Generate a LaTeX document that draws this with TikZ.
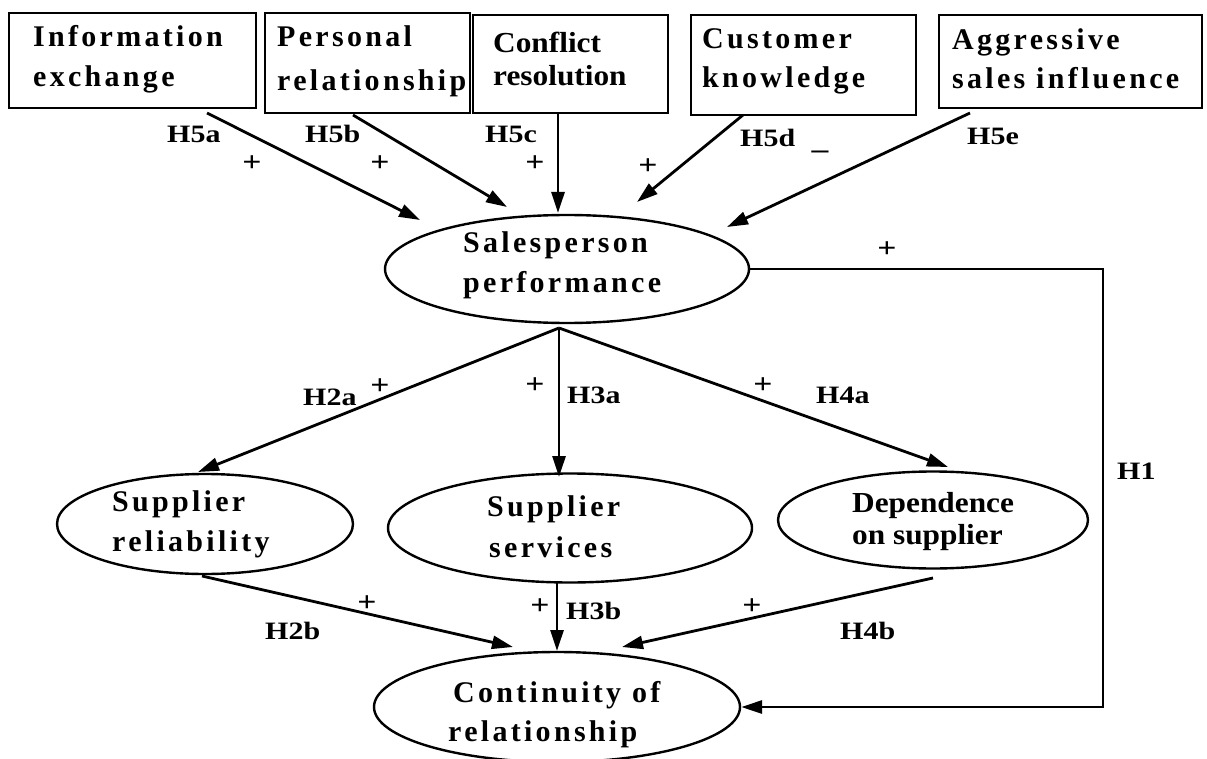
\documentclass[tikz,border=0pt]{standalone}
\usepackage{fontspec}
\setmainfont{Liberation Serif}
\newfontfamily\spfont{Liberation Serif}[UprightFont={* Bold}, LetterSpace=11]
\newfontfamily\plfont{Liberation Serif}[UprightFont={* Bold}, FakeStretch=1.08]
\newfontfamily\lbfont{Liberation Serif}[UprightFont={* Bold}, FakeStretch=1.2]
\usetikzlibrary{arrows.meta,shapes.geometric}
\tikzset{
  boxnode/.style={draw, line width=2.6pt, inner sep=0pt},
  ellnode/.style={ellipse, draw, line width=2.4pt, inner sep=0pt},
  sptext/.style={anchor=base west, inner sep=0pt, font=\spfont\fontsize{30}{32}\selectfont},
  pltext/.style={anchor=base west, inner sep=0pt, font=\plfont\fontsize{29}{31}\selectfont},
  lbtext/.style={anchor=base west, inner sep=0pt, font=\lbfont\fontsize{25}{27}\selectfont},
  sgtext/.style={inner sep=0pt, font=\lbfont\fontsize{28}{30}\selectfont},
  arr/.style={line width=2.8pt, -{Triangle[length=21pt,width=13pt]}}
}
\begin{document}
\begin{tikzpicture}[x=1pt,y=-1pt]
\useasboundingbox (0,0) rectangle (1207,759);
% boxes
\node[boxnode, minimum width=247pt, minimum height=95pt] (b1) at (132.5,60.5) {};
\node[boxnode, minimum width=205pt, minimum height=100pt] (b2) at (367.5,63) {};
\node[boxnode, minimum width=195pt, minimum height=98pt] (b3) at (570.5,64) {};
\node[boxnode, minimum width=225pt, minimum height=100pt] (b4) at (803.5,65) {};
\node[boxnode, minimum width=263pt, minimum height=93pt] (b5) at (1070.5,61.5) {};
\node[sptext] (t1a) at (33,47) {Information};
\node[sptext] (t1b) at (33,87) {exchange};
\node[sptext] (t2a) at (277,47) {Personal};
\node[sptext] (t2b) at (277,91) {relationship};
\node[pltext] (t3a) at (493,53) {Conflict};
\node[pltext] (t3b) at (493,86) {resolution};
\node[sptext] (t4a) at (702,49) {Customer};
\node[sptext] (t4b) at (702,88) {knowledge};
\node[sptext] (t5a) at (952,50) {Aggressive};
\node[sptext] (t5b) at (952,89) {sales influence};
% ellipses
\node[ellnode, minimum width=364pt, minimum height=108pt] (sp) at (567,269) {};
\node[ellnode, minimum width=296pt, minimum height=100pt] (rel) at (205,524) {};
\node[ellnode, minimum width=364pt, minimum height=109pt] (sv) at (570,528) {};
\node[ellnode, minimum width=310pt, minimum height=97pt] (dep) at (933,520) {};
\node[ellnode, minimum width=366pt, minimum height=110pt] (cr) at (557,707) {};
\node[sptext] (spa) at (463,253) {Salesperson};
\node[sptext] (spb) at (463,293) {performance};
\node[sptext] (rla) at (112,511) {Supplier};
\node[sptext] (rlb) at (112,551) {reliability};
\node[sptext] (sva) at (487,516) {Supplier};
\node[sptext] (svb) at (489,557) {services};
\node[pltext] (dpa) at (852,512) {Dependence};
\node[pltext] (dpb) at (852,544) {on supplier};
\node[sptext] (cra) at (453,702) {Continuity of};
\node[sptext] (crb) at (448,741) {relationship};
% arrow end points
\coordinate (s5a) at (207,113); \coordinate (e5a) at (420,220);
\coordinate (s5b) at (353,115); \coordinate (e5b) at (507,207);
\coordinate (s5c) at (558,113); \coordinate (e5c) at (558,213);
\coordinate (s5d) at (743,115); \coordinate (e5d) at (637,202);
\coordinate (s5e) at (970,113); \coordinate (e5e) at (727,227);
\coordinate (apex) at (559,328);
\coordinate (e2a) at (198,472);
\coordinate (e3a) at (559,477);
\coordinate (e4a) at (948,467);
\coordinate (s2b) at (202,576); \coordinate (e2b) at (513,647);
\coordinate (s3b) at (557,582); \coordinate (e3b) at (557,651);
\coordinate (s4b) at (933,578); \coordinate (e4b) at (622,647);
\coordinate (h1x) at (1103,0);
% connectors
\draw[arr] (s5a) -- (e5a);
\draw[arr] (s5b) -- (e5b);
\draw[arr] (s5c) -- (e5c);
\draw[arr] (s5d) -- (e5d);
\draw[arr] (s5e) -- (e5e);
\draw[arr] (apex) -- (e2a);
\draw[arr] (apex) -- (e3a);
\draw[arr] (apex) -- (e4a);
\draw[arr] (s2b) -- (e2b);
\draw[arr] (s3b) -- (e3b);
\draw[arr] (s4b) -- (e4b);
\draw[arr] (sp.east) -- (sp.east -| h1x) -- (cr.east -| h1x) -- (cr.east);
% labels
\node[lbtext] (l5a) at (167,143) {H5a};
\node[lbtext] (l5b) at (305,143) {H5b};
\node[lbtext] (l5c) at (485,143) {H5c};
\node[lbtext] (l5d) at (740,147) {H5d};
\node[lbtext] (l5e) at (967,145) {H5e};
\node[lbtext] (l2a) at (303,405) {H2a};
\node[lbtext] (l3a) at (567,403) {H3a};
\node[lbtext] (l4a) at (816,403) {H4a};
\node[lbtext] (l2b) at (265,639) {H2b};
\node[lbtext] (l3b) at (566,619) {H3b};
\node[lbtext] (l4b) at (840,639) {H4b};
\node[lbtext] (l1) at (1117,479) {H1};
% signs
\node[sgtext] (p5a) at (252,164) {+};
\node[sgtext] (p5b) at (380,164) {+};
\node[sgtext] (p5c) at (535,164) {+};
\node[sgtext] (p5d) at (648,167) {+};
\node[sgtext] (m5e) at (820,155) {\textendash};
\node[sgtext] (p1) at (887,250) {+};
\node[sgtext] (p2a) at (380,387) {+};
\node[sgtext] (p3a) at (535,386) {+};
\node[sgtext] (p4a) at (763,386) {+};
\node[sgtext] (p2b) at (367,604) {+};
\node[sgtext] (p3b) at (540,607) {+};
\node[sgtext] (p4b) at (752,607) {+};
\end{tikzpicture}
\end{document}
